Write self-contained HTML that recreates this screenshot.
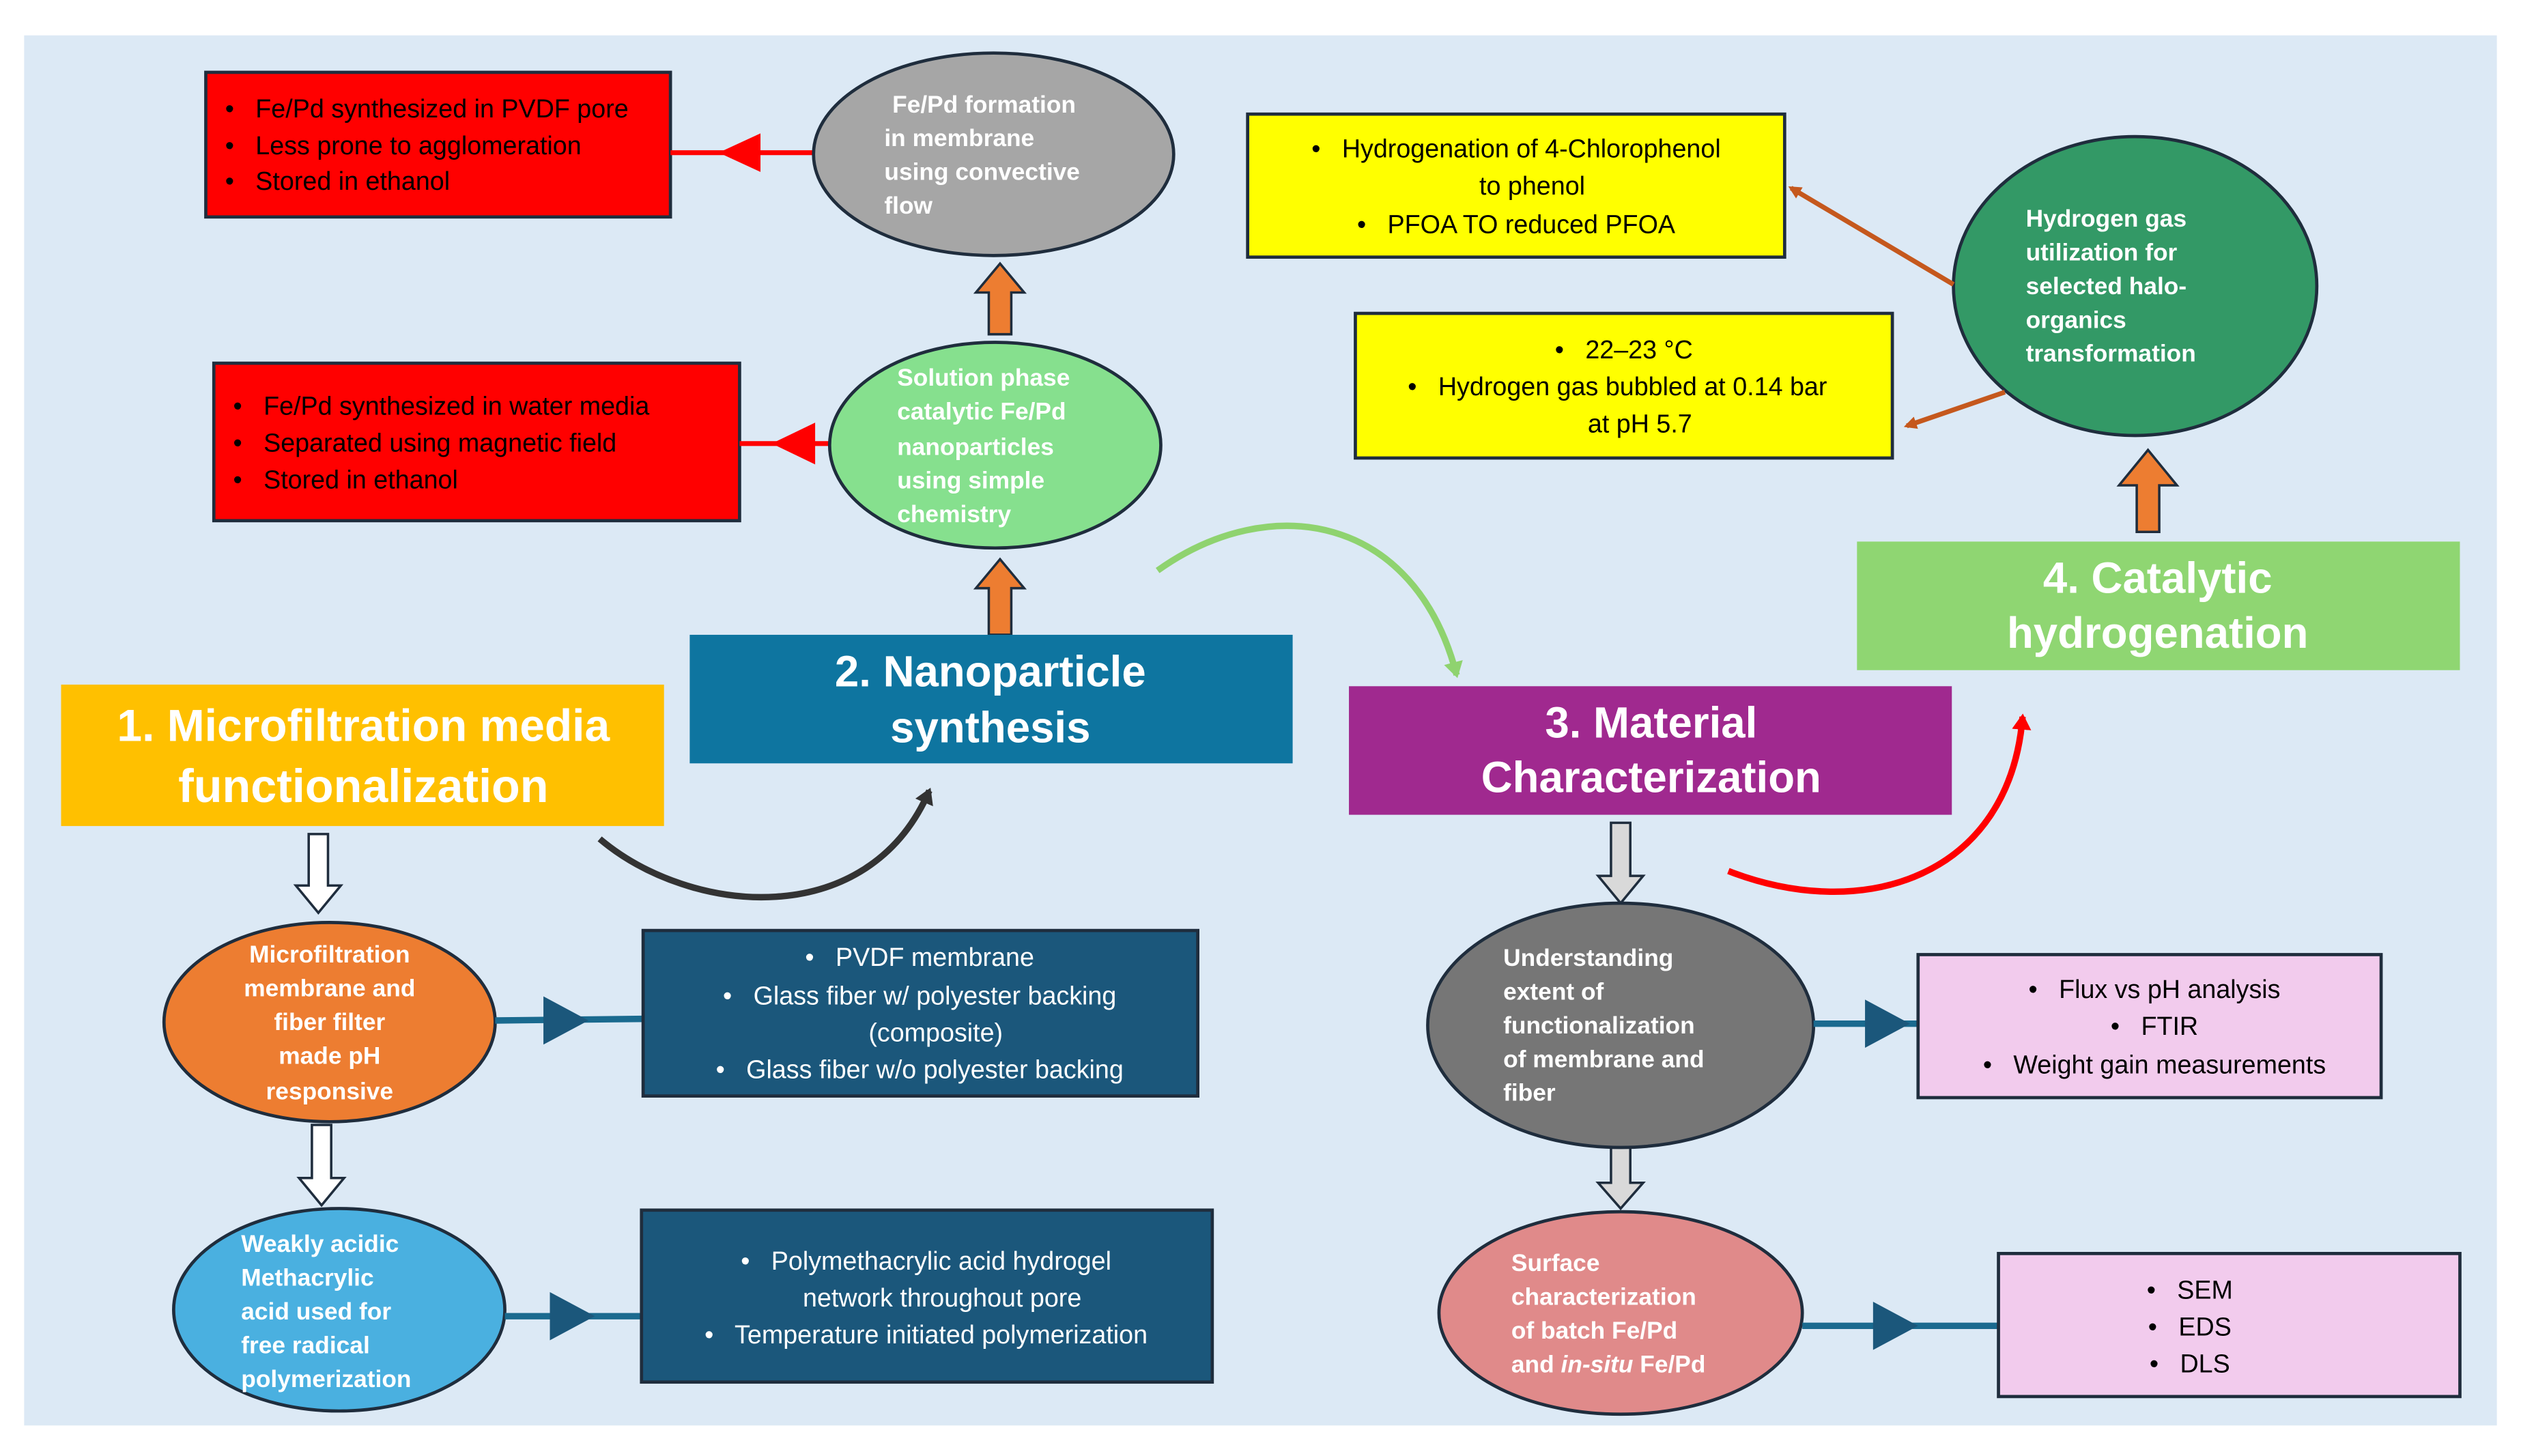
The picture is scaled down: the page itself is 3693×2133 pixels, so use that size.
<!DOCTYPE html>
<html><head><meta charset="utf-8"><style>
html,body{margin:0;padding:0;background:#fff;}
svg{display:block;}
text{font-family:"Liberation Sans",sans-serif;white-space:pre;}
.w{fill:#fff;font-weight:bold;font-size:15px;}
.b{fill:#000;font-size:16px;}
.t{fill:#fff;font-size:16px;}
.h{fill:#fff;font-weight:bold;font-size:27px;}
</style></head><body>
<svg width="3693" height="2133" viewBox="0 0 1568 906" preserveAspectRatio="none" xmlns="http://www.w3.org/2000/svg" xml:space="preserve">
<defs>
<marker id="bt" markerWidth="8" markerHeight="8" refX="6" refY="4" orient="auto" markerUnits="userSpaceOnUse"><path d="M0,0 L8,4 L0,8 z" fill="#c5581d"/></marker>
<marker id="gt" markerWidth="12" markerHeight="12" refX="8" refY="6" orient="auto" markerUnits="userSpaceOnUse"><path d="M0,0 L10,6 L0,12 z" fill="#8fd36f"/></marker>
<marker id="kt" markerWidth="12" markerHeight="12" refX="8" refY="6" orient="auto" markerUnits="userSpaceOnUse"><path d="M0,0 L10,6 L0,12 z" fill="#333"/></marker>
<marker id="rt" markerWidth="12" markerHeight="12" refX="8" refY="6" orient="auto" markerUnits="userSpaceOnUse"><path d="M0,0 L10,6 L0,12 z" fill="#f00"/></marker>
</defs>
<rect x="0" y="0" width="1568" height="906" fill="#fff"/>
<rect x="15" y="22" width="1538" height="865" fill="#dce9f5"/>

<rect x="128" y="45" width="289" height="90" fill="#f00" stroke="#1f2d3d" stroke-width="2"/>
<text class="b" x="140" y="73">•   Fe/Pd synthesized in PVDF pore</text>
<text class="b" x="140" y="96">•   Less prone to agglomeration</text>
<text class="b" x="140" y="118">•   Stored in ethanol</text>
<line x1="417" y1="95" x2="507" y2="95" stroke="#f00" stroke-width="3"/>
<path d="M447,95 L473,83 L473,107 z" fill="#f00"/>

<rect x="133" y="226" width="327" height="98" fill="#f00" stroke="#1f2d3d" stroke-width="2"/>
<text class="b" x="145" y="258">•   Fe/Pd synthesized in water media</text>
<text class="b" x="145" y="281">•   Separated using magnetic field</text>
<text class="b" x="145" y="304">•   Stored in ethanol</text>
<line x1="460" y1="276" x2="517" y2="276" stroke="#f00" stroke-width="3"/>
<path d="M480,276 L507,263 L507,289 z" fill="#f00"/>

<ellipse cx="618" cy="96" rx="112" ry="63" fill="#a6a6a6" stroke="#1f2d3d" stroke-width="2"/>
<text class="w" x="555" y="70">Fe/Pd formation</text>
<text class="w" x="550" y="91">in membrane</text>
<text class="w" x="550" y="112">using convective</text>
<text class="w" x="550" y="133">flow</text>
<path d="M615,208 L615,182 L607,182 L622,164 L637,182 L629,182 L629,208 z" fill="#ed7d31" stroke="#1f2d3d" stroke-width="1.5"/>

<ellipse cx="619" cy="277" rx="103" ry="64" fill="#86e08e" stroke="#1f2d3d" stroke-width="2"/>
<text class="w" x="558" y="240">Solution phase</text>
<text class="w" x="558" y="261">catalytic Fe/Pd</text>
<text class="w" x="558" y="283">nanoparticles</text>
<text class="w" x="558" y="304">using simple</text>
<text class="w" x="558" y="325">chemistry</text>
<path d="M615,395 L615,366 L607,366 L622,348 L637,366 L629,366 L629,395 z" fill="#ed7d31" stroke="#1f2d3d" stroke-width="1.5"/>

<rect x="429" y="395" width="375" height="80" fill="#0e75a0"/>
<text class="h" x="616" y="427" text-anchor="middle">2. Nanoparticle</text>
<text class="h" x="616" y="462" text-anchor="middle">synthesis</text>

<rect x="38" y="426" width="375" height="88" fill="#ffc000"/>
<text class="h" x="226" y="461" text-anchor="middle" style="font-size:28px">1. Microfiltration media</text>
<text class="h" x="226" y="499" text-anchor="middle" style="font-size:29px">functionalization</text>

<rect x="839" y="427" width="375" height="80" fill="#a0298f"/>
<text class="h" x="1027" y="459" text-anchor="middle">3. Material</text>
<text class="h" x="1027" y="493" text-anchor="middle">Characterization</text>

<rect x="1155" y="337" width="375" height="80" fill="#8fd672"/>
<text class="h" x="1342" y="369" text-anchor="middle">4. Catalytic</text>
<text class="h" x="1342" y="403" text-anchor="middle">hydrogenation</text>

<rect x="776" y="71" width="334" height="89" fill="#ff0" stroke="#1f2d3d" stroke-width="2"/>
<text class="b" x="943" y="98" text-anchor="middle">•   Hydrogenation of 4-Chlorophenol</text>
<text class="b" x="953" y="121" text-anchor="middle">to phenol</text>
<text class="b" x="943" y="145" text-anchor="middle">•   PFOA TO reduced PFOA</text>
<rect x="843" y="195" width="334" height="90" fill="#ff0" stroke="#1f2d3d" stroke-width="2"/>
<text class="b" x="1010" y="223" text-anchor="middle">•   22–23 °C</text>
<text class="b" x="1006" y="246" text-anchor="middle">•   Hydrogen gas bubbled at 0.14 bar</text>
<text class="b" x="1020" y="269" text-anchor="middle">at pH 5.7</text>

<ellipse cx="1328" cy="178" rx="113" ry="93" fill="#339966" stroke="#1f2d3d" stroke-width="2"/>
<text class="w" x="1260" y="141">Hydrogen gas</text>
<text class="w" x="1260" y="162">utilization for</text>
<text class="w" x="1260" y="183">selected halo-</text>
<text class="w" x="1260" y="204">organics</text>
<text class="w" x="1260" y="225">transformation</text>
<line x1="1215" y1="177" x2="1114" y2="117" stroke="#c5581d" stroke-width="3" marker-end="url(#bt)"/>
<line x1="1247" y1="244" x2="1186" y2="265" stroke="#c5581d" stroke-width="3" marker-end="url(#bt)"/>
<path d="M1329,331 L1329,302 L1318,302 L1336,280 L1354,302 L1343,302 L1343,331 z" fill="#ed7d31" stroke="#1f2d3d" stroke-width="1.5"/>

<path d="M720,355 C790,305 880,320 906,420" fill="none" stroke="#8fd36f" stroke-width="4" marker-end="url(#gt)"/>
<path d="M373,522 C430,570 540,580 578,492" fill="none" stroke="#333" stroke-width="4" marker-end="url(#kt)"/>
<path d="M1075,542 C1160,575 1250,545 1258,446" fill="none" stroke="#f00" stroke-width="4" marker-end="url(#rt)"/>

<path d="M192,519 L204,519 L204,551 L212,551 L198,568 L184,551 L192,551 z" fill="#fff" stroke="#1f2d3d" stroke-width="1.5"/>
<path d="M194,700 L206,700 L206,733 L214,733 L200,750 L186,733 L194,733 z" fill="#fff" stroke="#1f2d3d" stroke-width="1.5"/>
<path d="M1002,512 L1014,512 L1014,545 L1022,545 L1008,562 L994,545 L1002,545 z" fill="#d9d9d9" stroke="#1f2d3d" stroke-width="1.5"/>
<path d="M1002,713 L1014,713 L1014,736 L1022,736 L1008,752 L994,736 L1002,736 z" fill="#d9d9d9" stroke="#1f2d3d" stroke-width="1.5"/>

<ellipse cx="205" cy="636" rx="103" ry="62" fill="#ed7d31" stroke="#1f2d3d" stroke-width="2"/>
<text class="w" x="205" y="599" text-anchor="middle">Microfiltration</text>
<text class="w" x="205" y="620" text-anchor="middle">membrane and</text>
<text class="w" x="205" y="641" text-anchor="middle">fiber filter</text>
<text class="w" x="205" y="662" text-anchor="middle">made pH</text>
<text class="w" x="205" y="684" text-anchor="middle">responsive</text>
<ellipse cx="211" cy="815" rx="103" ry="63" fill="#4ab0e0" stroke="#1f2d3d" stroke-width="2"/>
<text class="w" x="150" y="779">Weakly acidic</text>
<text class="w" x="150" y="800">Methacrylic</text>
<text class="w" x="150" y="821">acid used for</text>
<text class="w" x="150" y="842">free radical</text>
<text class="w" x="150" y="863">polymerization</text>

<line x1="308" y1="635" x2="400" y2="634" stroke="#1a6a8f" stroke-width="4"/>
<path d="M338,620 L366,635 L338,650 z" fill="#1b577b"/>
<line x1="314" y1="819" x2="399" y2="819" stroke="#1a6a8f" stroke-width="4"/>
<path d="M342,804 L370,819 L342,834 z" fill="#1b577b"/>

<rect x="400" y="579" width="345" height="103" fill="#1b577b" stroke="#1f2d3d" stroke-width="2"/>
<text class="t" x="572" y="601" text-anchor="middle">•   PVDF membrane</text>
<text class="t" x="572" y="625" text-anchor="middle">•   Glass fiber w/ polyester backing</text>
<text class="t" x="582" y="648" text-anchor="middle">(composite)</text>
<text class="t" x="572" y="671" text-anchor="middle">•   Glass fiber w/o polyester backing</text>
<rect x="399" y="753" width="355" height="107" fill="#1b577b" stroke="#1f2d3d" stroke-width="2"/>
<text class="t" x="576" y="790" text-anchor="middle">•   Polymethacrylic acid hydrogel</text>
<text class="t" x="586" y="813" text-anchor="middle">network throughout pore</text>
<text class="t" x="576" y="836" text-anchor="middle">•   Temperature initiated polymerization</text>

<ellipse cx="1008" cy="638" rx="120" ry="76" fill="#767676" stroke="#1f2d3d" stroke-width="2"/>
<text class="w" x="935" y="601">Understanding</text>
<text class="w" x="935" y="622">extent of</text>
<text class="w" x="935" y="643">functionalization</text>
<text class="w" x="935" y="664">of membrane and</text>
<text class="w" x="935" y="685">fiber</text>
<ellipse cx="1008" cy="817" rx="113" ry="63" fill="#e08a8a" stroke="#1f2d3d" stroke-width="2"/>
<text class="w" x="940" y="791">Surface</text>
<text class="w" x="940" y="812">characterization</text>
<text class="w" x="940" y="833">of batch Fe/Pd</text>
<text class="w" x="940" y="854">and <tspan font-style="italic">in-situ</tspan> Fe/Pd</text>

<line x1="1128" y1="637" x2="1193" y2="637" stroke="#1a6a8f" stroke-width="4"/>
<path d="M1160,622 L1188,637 L1160,652 z" fill="#1b577b"/>
<line x1="1121" y1="825" x2="1243" y2="825" stroke="#1a6a8f" stroke-width="4"/>
<path d="M1165,810 L1193,825 L1165,840 z" fill="#1b577b"/>

<rect x="1193" y="594" width="288" height="89" fill="#f2cbed" stroke="#1f2d3d" stroke-width="2"/>
<text class="b" x="1340" y="621" text-anchor="middle">•   Flux vs pH analysis</text>
<text class="b" x="1340" y="644" text-anchor="middle">•   FTIR</text>
<text class="b" x="1340" y="668" text-anchor="middle">•   Weight gain measurements</text>
<rect x="1243" y="780" width="287" height="89" fill="#f2cbed" stroke="#1f2d3d" stroke-width="2"/>
<text class="b" x="1362" y="808" text-anchor="middle">•   SEM</text>
<text class="b" x="1362" y="831" text-anchor="middle">•   EDS</text>
<text class="b" x="1362" y="854" text-anchor="middle">•   DLS</text>
</svg>
</body></html>
